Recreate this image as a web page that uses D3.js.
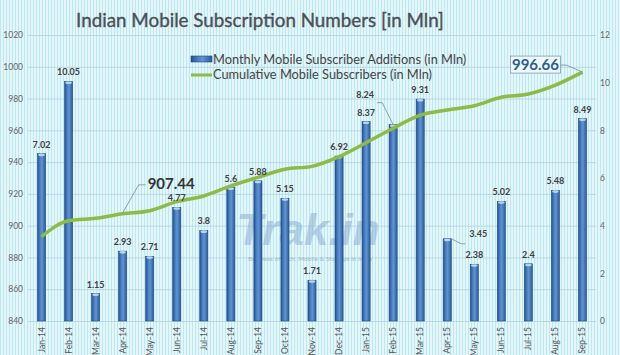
<!DOCTYPE html>
<html><head><meta charset="utf-8">
<script src="https://cdn.jsdelivr.net/npm/d3@7"></script>
<style>body{margin:0;background:#fff}svg{display:block}</style>
</head><body>
<svg id="c" width="620" height="355"></svg>
<script>
const months = ["Jan-14","Feb-14","Mar-14","Apr-14","May-14","Jun-14","Jul-14","Aug-14","Sep-14","Oct-14","Nov-14","Dec-14","Jan-15","Feb-15","Mar-15","Apr-15","May-15","Jun-15","Jul-15","Aug-15","Sep-15"];
const additions = [7.02,10.05,1.15,2.93,2.71,4.77,3.8,5.6,5.88,5.15,1.71,6.92,8.37,8.24,9.31,3.45,2.38,5.02,2.4,5.48,8.49];
const cumulative = [893.1,903.1,904.6,907.44,909.4,915.1,918.7,925.0,930.4,935.5,937.3,943.4,952.2,961.3,969.6,972.8,975.5,980.8,982.9,988.5,996.66];
const leftTicks = [840,860,880,900,920,940,960,980,1000,1020];
const rightTicks = [0,2,4,6,8,10,12];
const title = "Indian Mobile Subscription Numbers [in Mln]";
const legendLabels = ["Monthly Mobile Subscriber Additions (in Mln)","Cumulative Mobile Subscribers (in Mln)"];

(function(){
const svg = d3.select("#c");
const W=620,H=355;
const pL=28, pR=596, pT=35, pB=321;
const font = "Lato, 'Open Sans', sans-serif";

const defs = svg.append("defs");
const pat = defs.append("pattern").attr("id","stripes").attr("width",3).attr("height",4).attr("patternUnits","userSpaceOnUse");
pat.append("rect").attr("width",3).attr("height",4).attr("fill","#e3f6fa");
pat.append("rect").attr("width",1).attr("height",4).attr("fill","#bfe7f0");
const g1 = defs.append("linearGradient").attr("id","barg").attr("x1",0).attr("x2",1).attr("y1",0).attr("y2",0);
g1.append("stop").attr("offset","0%").attr("stop-color","#24528f");
g1.append("stop").attr("offset","35%").attr("stop-color","#4d82c6");
g1.append("stop").attr("offset","55%").attr("stop-color","#5f93d4");
g1.append("stop").attr("offset","100%").attr("stop-color","#2a5a98");

svg.append("rect").attr("width",W).attr("height",H).attr("fill","url(#stripes)");

const x = d3.scaleBand().domain(months).range([pL,pR]).paddingInner(0.7).paddingOuter(0.35);
const yL = d3.scaleLinear().domain([840,1020]).range([pB,pT]);
const yR = d3.scaleLinear().domain([0,12]).range([pB,pT]);

svg.append("g").selectAll("line").data(leftTicks).join("line")
  .attr("x1",pL).attr("x2",pR).attr("y1",d=>yL(d)+0.5).attr("y2",d=>yL(d)+0.5)
  .attr("stroke","#b9d9e0").attr("stroke-width",1);

const la = svg.append("g").attr("transform",`translate(${pL-3},0)`)
  .call(d3.axisLeft(yL).tickValues(leftTicks).tickFormat(d3.format("d")).tickSize(0).tickPadding(2));
la.select(".domain").remove();
la.selectAll("text").attr("font-family",font).attr("font-size",8.5).attr("fill","#666");
const ra = svg.append("g").attr("transform",`translate(${pR+1},0)`)
  .call(d3.axisRight(yR).tickValues(rightTicks).tickFormat(d3.format("d")).tickSize(0).tickPadding(3));
ra.select(".domain").remove();
ra.selectAll("text").attr("font-family",font).attr("font-size",8.5).attr("fill","#666");

svg.append("text").attr("x",308).attr("y",245).attr("text-anchor","middle")
  .attr("font-family","'Liberation Sans', Arial, sans-serif").attr("font-weight","bold").attr("font-style","italic")
  .attr("font-size",44).attr("fill","#7ea3cc").attr("opacity",0.45).text("Trak.in");
svg.append("text").attr("x",310).attr("y",261).attr("text-anchor","middle")
  .attr("font-family",font).attr("font-size",6.5).attr("fill","#8aa6c0").attr("opacity",0.7)
  .text("Business of Tech, Mobile & Startups in India");

const bw = x.bandwidth();
const bars = svg.append("g");
bars.selectAll("rect").data(months).join("rect")
  .attr("x",d=>x(d)).attr("y",(d,i)=>yR(additions[i])).attr("width",bw)
  .attr("height",(d,i)=>pB-yR(additions[i]))
  .attr("fill","url(#barg)").attr("stroke","#1f4c86").attr("stroke-width",0.6);
bars.selectAll("ellipse").data(months).join("ellipse")
  .attr("cx",d=>x(d)+bw/2).attr("cy",(d,i)=>yR(additions[i])+1.2).attr("rx",bw/2-0.8).attr("ry",1.3)
  .attr("fill","#b8d2f0");

const line = d3.line().x((d,i)=>x(months[i])+bw/2).y(d=>yL(d)).curve(d3.curveMonotoneX);
svg.append("path").datum(cumulative).attr("d",line).attr("fill","none")
  .attr("stroke","#8cbc45").attr("stroke-width",3.5).attr("stroke-linejoin","round");

const special = {"Feb-15":[-28,-21],"Apr-15":[31,4]};
svg.append("g").selectAll("text").data(months).join("text")
  .attr("x",(d,i)=>x(d)+bw/2+(special[d]?special[d][0]:0))
  .attr("y",(d,i)=>yR(additions[i])-6+(special[d]?special[d][1]:0))
  .attr("text-anchor","middle").attr("font-family",font).attr("font-weight","bold")
  .attr("font-size",9).attr("fill","#404040").text((d,i)=>additions[i]);
const lead = svg.append("g").attr("stroke","#7a8a9a").attr("stroke-width",0.8).attr("fill","none");
{
  const i=13, cx=x(months[i])+bw/2, yy=yR(additions[i]);
  lead.append("polyline").attr("points",`${cx-16},${yy-22} ${cx-11},${yy-22} ${cx},${yy}`);
  const j=15, cx2=x(months[j])+bw/2, yy2=yR(additions[j]);
  lead.append("polyline").attr("points",`${cx2+bw/2},${yy2} ${cx2+14},${yy2+5} ${cx2+18},${yy2+5}`);
}
{
  const i=3, px=x(months[i])+bw/2, py=yL(cumulative[i]);
  lead.append("polyline").attr("points",`${px},${py-1} ${px+16},${py-29} ${px+23},${py-29}`);
  svg.append("text").attr("x",px+25).attr("y",py-25).attr("font-family",font).attr("font-weight","bold")
    .attr("font-size",15).attr("fill","#333").text(cumulative[i].toFixed(2));
  const j=20, qx=x(months[j])+bw/2, qy=yL(cumulative[j]);
  lead.append("polyline").attr("points",`${qx},${qy} ${qx-16},${qy-7} ${qx-22},${qy-7}`);
  svg.append("rect").attr("x",qx-72).attr("y",qy-16).attr("width",50).attr("height",17)
    .attr("fill","#eef9fc").attr("stroke","#7e9bb5").attr("stroke-width",0.8);
  svg.append("text").attr("x",qx-47).attr("y",qy-2).attr("text-anchor","middle").attr("font-family",font)
    .attr("font-weight","bold").attr("font-size",15).attr("fill","#2c5d8f").text(cumulative[j].toFixed(2));
}

svg.append("g").selectAll("text").data(months).join("text")
  .attr("transform",d=>`translate(${x(d)+bw/2+3},327) rotate(-90)`)
  .attr("text-anchor","end").attr("font-family",font).attr("font-size",8.5).attr("fill","#555").text(d=>d);

svg.append("text").attr("x",260).attr("y",27).attr("text-anchor","middle").attr("font-family",font)
  .attr("font-size",18.8).attr("fill","#4a4f55").attr("stroke","#4a4f55").attr("stroke-width",0.35).text(title);

const lg = svg.append("g");
lg.append("rect").attr("x",191).attr("y",56).attr("width",21).attr("height",6).attr("fill","url(#barg)").attr("stroke","#1f4c86").attr("stroke-width",0.6);
lg.append("line").attr("x1",191).attr("x2",212).attr("y1",75).attr("y2",75).attr("stroke","#8cbc45").attr("stroke-width",3);
lg.selectAll("text").data(legendLabels).join("text").attr("x",213).attr("y",(d,i)=>64+i*15)
  .attr("font-family",font).attr("font-size",12.8).attr("fill","#444").text(d=>d);
})();
</script>
</body></html>
